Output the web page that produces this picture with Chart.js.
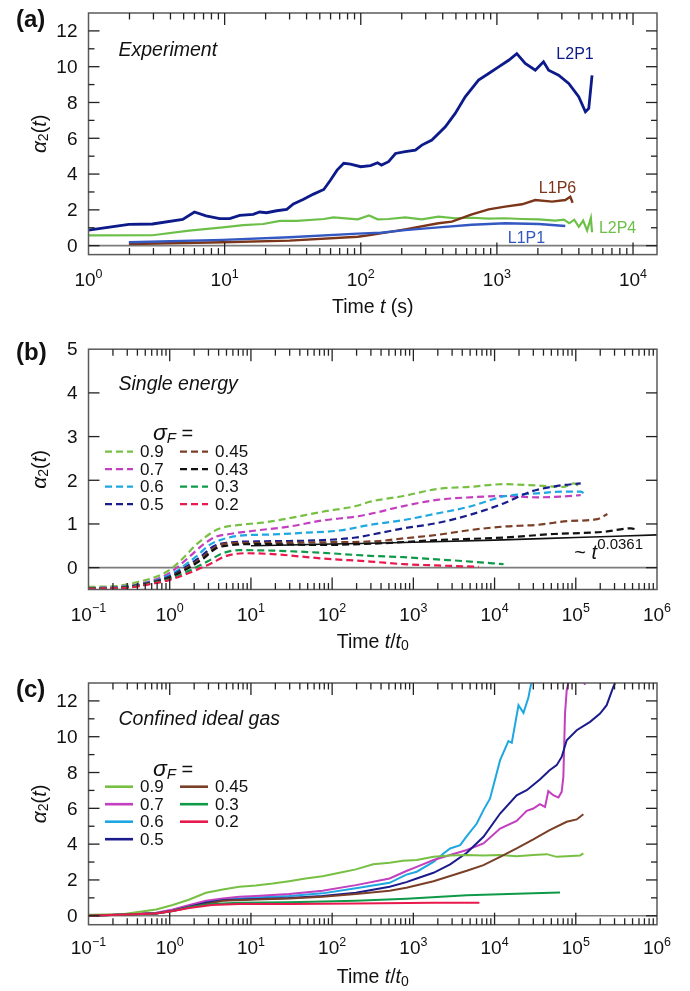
<!DOCTYPE html>
<html>
<head>
<meta charset="utf-8">
<script src="https://cdn.jsdelivr.net/npm/chart.js@4.4.1/dist/chart.umd.min.js"></script>
<style>
  body { margin: 0; background: #fff; width: 690px; height: 991px; position: relative; overflow: hidden; }
  canvas { position: absolute; left: 0; }
</style>
</head>
<body>
<canvas id="pa" width="690" height="330" style="top:0;width:690px;height:330px"></canvas>
<canvas id="pb" width="690" height="330" style="top:330px;width:690px;height:330px"></canvas>
<canvas id="pc" width="690" height="331" style="top:660px;width:690px;height:331px"></canvas>
<script>
const FF = '"Liberation Sans", Arial, Helvetica, sans-serif';

// ===== painel (a): experimento, t em segundos =====
const aL2P1T = [1, 1.98, 2.95, 4.92, 6.0, 7.3, 9.2, 10.9, 12.9, 16.2, 18.1, 20.3, 24.1, 28.6, 32, 38, 45, 53.5, 60, 67, 75, 84, 100, 118, 133, 142, 160, 180, 212, 252, 281, 333, 418, 494, 585, 733, 870, 1030, 1220, 1400, 1615, 1915, 2200, 2400, 2840, 3370, 3990, 4470, 4730, 5000];
const aL2P1V = [0.87, 1.19, 1.21, 1.47, 1.88, 1.66, 1.51, 1.51, 1.69, 1.75, 1.88, 1.84, 1.95, 2.03, 2.33, 2.59, 2.88, 3.14, 3.67, 4.22, 4.6, 4.56, 4.41, 4.47, 4.63, 4.5, 4.69, 5.15, 5.25, 5.34, 5.62, 5.9, 6.64, 7.39, 8.32, 9.25, 9.62, 9.99, 10.36, 10.73, 10.18, 9.8, 10.27, 9.8, 9.52, 9.06, 8.32, 7.48, 7.67, 9.52];
const aL2P4T = [1, 2.95, 5.5, 9.7, 13.7, 19.2, 25.5, 34, 53.5, 63, 95, 115, 133, 160, 212, 281, 372, 494, 655, 870, 1150, 1530, 2030, 2690, 3100, 3400, 3700, 4000, 4300, 4600, 4900, 5000];
const aL2P4V = [0.57, 0.58, 0.84, 1.02, 1.15, 1.21, 1.38, 1.38, 1.49, 1.58, 1.47, 1.69, 1.47, 1.49, 1.58, 1.47, 1.62, 1.53, 1.56, 1.51, 1.53, 1.49, 1.47, 1.40, 1.45, 1.25, 1.45, 1.05, 1.40, 0.85, 1.55, 0.75];
const aL1P1T = [1.98, 9.7, 30, 95, 140, 212, 372, 655, 1150, 2030, 3180];
const aL1P1V = [0.19, 0.32, 0.47, 0.67, 0.72, 0.87, 1.02, 1.17, 1.25, 1.21, 1.10];
const aL1P6T = [1.98, 9.7, 30, 95, 120, 212, 372, 467, 655, 870, 1150, 1530, 1915, 2540, 3180, 3460, 3600];
const aL1P6V = [0.09, 0.19, 0.28, 0.50, 0.60, 0.91, 1.25, 1.34, 1.75, 2.03, 2.18, 2.31, 2.55, 2.46, 2.55, 2.73, 2.40];
// rótulos das curvas (posição em coordenadas de dados)
const aLabels = ['L2P1', 'L1P6', 'L2P4', 'L1P1'];
const aLabelT = [3750, 2790, 7700, 1650];
const aLabelV = [10.7, 3.2, 0.97, 0.41];

// ===== painel (b): energia única (tracejado) =====
const b09T = [0.1, 0.22, 0.42, 0.68, 1.0, 1.45, 2.1, 3.4, 4.5, 7.2, 13.9, 29.5, 76, 196, 294, 760, 1950, 5000, 12900, 33500, 71600, 95000, 115000];
const b09V = [-0.44, -0.42, -0.32, -0.21, -0.05, 0.21, 0.52, 0.82, 0.92, 0.98, 1.03, 1.13, 1.28, 1.41, 1.51, 1.64, 1.80, 1.85, 1.91, 1.88, 1.85, 1.93, 1.82];
const b07T = [0.1, 0.3, 0.6, 1.0, 1.75, 2.55, 3.7, 5.4, 11.5, 29.5, 76, 196, 294, 760, 1950, 5000, 12900, 33500, 71600, 115000];
const b07V = [-0.47, -0.42, -0.30, -0.12, 0.25, 0.52, 0.71, 0.77, 0.85, 0.94, 1.08, 1.17, 1.23, 1.41, 1.55, 1.61, 1.64, 1.61, 1.63, 1.66];
const b06T = [0.1, 0.3, 0.6, 1.0, 2.1, 3.1, 4.5, 7.2, 18.5, 47, 123, 294, 760, 1950, 5000, 12900, 33500, 71600, 115000, 126000];
const b06V = [-0.47, -0.43, -0.32, -0.17, 0.25, 0.52, 0.65, 0.73, 0.76, 0.80, 0.85, 0.98, 1.09, 1.24, 1.40, 1.63, 1.70, 1.74, 1.74, 1.70];
const b05T = [0.1, 0.3, 0.6, 1.0, 2.4, 3.4, 5.0, 11.5, 29.5, 76, 196, 378, 760, 1950, 5000, 12900, 27900, 59300, 115000];
const b05V = [-0.48, -0.44, -0.33, -0.20, 0.25, 0.48, 0.57, 0.60, 0.61, 0.63, 0.69, 0.79, 0.90, 1.02, 1.21, 1.47, 1.74, 1.87, 1.93];
const b045T = [0.1, 0.3, 0.6, 1.0, 2.6, 3.7, 5.4, 11.5, 76, 378, 760, 1950, 5000, 12900, 33500, 86500, 185000, 245000];
const b045V = [-0.48, -0.44, -0.34, -0.22, 0.25, 0.48, 0.56, 0.57, 0.58, 0.61, 0.67, 0.75, 0.86, 0.94, 0.98, 1.07, 1.11, 1.23];
const b043T = [0.1, 0.3, 0.6, 1.0, 2.6, 3.7, 5.4, 11.5, 76, 330, 1950, 12900, 54000, 222000, 478000, 580000];
const b043V = [-0.48, -0.45, -0.35, -0.23, 0.21, 0.44, 0.51, 0.54, 0.52, 0.55, 0.63, 0.69, 0.77, 0.82, 0.90, 0.86];
const b03T = [0.1, 0.3, 0.6, 1.0, 2.9, 4.5, 7.2, 18.5, 76, 294, 760, 1950, 5000, 12900];
const b03V = [-0.48, -0.45, -0.36, -0.26, 0.14, 0.33, 0.40, 0.39, 0.34, 0.27, 0.24, 0.19, 0.14, 0.08];
const b02T = [0.1, 0.3, 0.6, 1.0, 3.1, 5.0, 8.6, 18.5, 76, 294, 760, 1950, 6400];
const b02V = [-0.48, -0.46, -0.37, -0.28, 0.08, 0.27, 0.33, 0.31, 0.21, 0.14, 0.08, 0.05, 0.02];
// ajuste ~ t^0.0361
const bFitT = [10, 100, 1000, 10000, 100000, 1000000];
const bFitV = [0.50, 0.54, 0.58, 0.63, 0.69, 0.75];
const sigmaB = ['0.9', '0.7', '0.6', '0.5', '0.45', '0.43', '0.3', '0.2'];

// ===== painel (c): gás ideal confinado =====
const c09T = [0.1, 0.26, 0.68, 1.09, 1.75, 2.8, 4.5, 7.2, 11.5, 18.5, 29.5, 47, 76, 123, 196, 320, 510, 745, 1100, 1770, 2840, 4550, 7300, 11700, 18700, 30000, 43900, 58000, 77300, 113000, 124000];
const c09V = [0.05, 0.09, 0.35, 0.60, 0.91, 1.28, 1.47, 1.62, 1.69, 1.80, 1.93, 2.08, 2.21, 2.40, 2.59, 2.88, 2.96, 3.07, 3.11, 3.29, 3.37, 3.40, 3.37, 3.39, 3.33, 3.39, 3.44, 3.29, 3.33, 3.37, 3.48];
const c07T = [0.1, 0.68, 1.09, 1.75, 2.8, 4.5, 7.2, 11.5, 29.5, 76, 196, 510, 820, 1100, 1770, 2840, 4550, 7300, 11700, 18700, 24900, 30000, 36100, 41800, 45900, 52800, 61100, 67000, 70300, 73700, 77300, 85000, 100000, 120000, 130000];
const c07V = [0, 0.17, 0.35, 0.60, 0.84, 0.97, 1.06, 1.10, 1.21, 1.40, 1.71, 2.08, 2.50, 2.73, 3.11, 3.39, 3.67, 4.04, 4.87, 5.30, 5.86, 5.99, 6.23, 6.08, 6.96, 6.73, 6.60, 6.92, 7.76, 11.3, 12.6, 13.4, 13.8, 13.3, 12.9];
const c06T = [0.1, 0.68, 1.09, 1.75, 2.8, 4.5, 11.5, 29.5, 76, 196, 510, 820, 1100, 1770, 2350, 2840, 3770, 4550, 6040, 7300, 8800, 11700, 14800, 16300, 19700, 22700, 26100, 28700, 30000];
const c06V = [0, 0.15, 0.30, 0.54, 0.78, 0.91, 1.02, 1.10, 1.25, 1.53, 1.84, 2.30, 2.46, 3.01, 3.48, 3.76, 3.94, 4.45, 5.15, 5.90, 6.55, 8.69, 9.75, 9.66, 11.76, 11.33, 12.19, 13.15, 13.6];
const c05T = [0.1, 0.68, 1.09, 1.75, 2.8, 4.5, 11.5, 29.5, 76, 196, 510, 820, 1100, 1770, 2840, 4550, 7300, 11700, 18700, 24900, 36100, 47600, 58200, 67000, 77300, 102600, 150000, 199000, 240000, 290000, 316000, 330000];
const c05V = [0, 0.13, 0.28, 0.50, 0.73, 0.87, 0.93, 0.99, 1.10, 1.28, 1.62, 1.88, 2.08, 2.40, 2.87, 3.52, 4.41, 5.71, 6.73, 7.01, 7.61, 8.13, 8.41, 8.87, 9.80, 10.36, 10.83, 11.29, 11.76, 12.78, 13.15, 13.4];
const c045T = [0.1, 0.68, 1.09, 1.75, 4.5, 11.5, 29.5, 76, 196, 510, 820, 1770, 4550, 7300, 11700, 18700, 30000, 47600, 77300, 102600, 124000];
const c045V = [0, 0.12, 0.27, 0.47, 0.84, 0.91, 0.97, 1.06, 1.21, 1.40, 1.56, 1.93, 2.51, 2.83, 3.29, 3.76, 4.26, 4.78, 5.25, 5.38, 5.67];
const c03T = [0.1, 0.68, 1.09, 1.75, 3.3, 7.2, 29.5, 196, 820, 4550, 30000, 64000];
const c03V = [0, 0.12, 0.27, 0.47, 0.65, 0.73, 0.76, 0.84, 0.95, 1.15, 1.25, 1.30];
const c02T = [0.1, 0.68, 1.09, 1.75, 3.3, 7.2, 29.5, 196, 1770, 6500];
const c02V = [0, 0.12, 0.26, 0.43, 0.60, 0.65, 0.65, 0.69, 0.73, 0.73];
const sigmaC = ['0.9', '0.7', '0.6', '0.5', '0.45', '0.3', '0.2'];

// ticks
const yMajA = [0, 2, 4, 6, 8, 10, 12];
const yMinA = [1, 3, 5, 7, 9, 11];
const yMajB = [0, 1, 2, 3, 4, 5];
const xDecA = [0, 1, 2, 3, 4];
const xDecB = [-1, 0, 1, 2, 3, 4, 5, 6];

// cores
const cor = {
  '0.9': '#77c043', '0.7': '#c23fbf', '0.6': '#1ea7e1', '0.5': '#1a1c8c',
  '0.45': '#7a3f26', '0.43': '#111111', '0.3': '#0f9a49', '0.2': '#e8194c'
};

function serie(ts, vs, color, extra) {
  return Object.assign({
    data: ts.map((t, i) => ({ x: t, y: vs[i] })),
    borderColor: color, borderWidth: 2, pointRadius: 0, fill: false, clip: 0, tension: 0
  }, extra || {});
}

// desenha uma sequência de trechos de texto com estilos diferentes
function texto(ctx, partes, x, y, align) {
  let w = 0;
  partes.forEach(p => { ctx.font = p.f; w += ctx.measureText(p.t).width; });
  let cx = align === 'center' ? x - w / 2 : (align === 'right' ? x - w : x);
  partes.forEach(p => {
    ctx.font = p.f;
    ctx.fillText(p.t, cx, y + (p.dy || 0));
    cx += ctx.measureText(p.t).width;
  });
}

function painelPlugin(p) {
  return {
    id: 'painel',
    beforeDatasetsDraw(chart) {
      const { ctx, chartArea: ca, scales: { y } } = chart;
      const y0 = y.getPixelForValue(0);
      ctx.save();
      ctx.strokeStyle = '#7d7d7d'; ctx.lineWidth = 1.6;
      ctx.beginPath(); ctx.moveTo(ca.left, y0); ctx.lineTo(ca.right, y0); ctx.stroke();
      ctx.restore();
    },
    afterDraw(chart) {
      const { ctx, chartArea: ca, scales: { x, y } } = chart;
      ctx.save();
      ctx.strokeStyle = '#5a5a5a'; ctx.lineWidth = 1.5;
      ctx.strokeRect(ca.left, ca.top, ca.right - ca.left, ca.bottom - ca.top);

      ctx.strokeStyle = '#222'; ctx.lineWidth = 1.3;
      const seg = (x1, y1, x2, y2) => { ctx.beginPath(); ctx.moveTo(x1, y1); ctx.lineTo(x2, y2); ctx.stroke(); };
      p.xDec.forEach(k => {
        const v = Math.pow(10, k);
        const px = x.getPixelForValue(v);
        if (px > ca.left + 1 && px < ca.right - 1) {
          seg(px, ca.bottom, px, ca.bottom - 12); seg(px, ca.top, px, ca.top + 12);
        }
        for (let m = 2; m <= 9; m++) {
          const mv = m * v;
          if (mv >= x.max) continue;
          const mp = x.getPixelForValue(mv);
          seg(mp, ca.bottom, mp, ca.bottom - 6.5); seg(mp, ca.top, mp, ca.top + 6.5);
        }
      });
      p.yMaj.forEach(v => {
        const py = y.getPixelForValue(v);
        if (py > ca.top + 1) { seg(ca.left, py, ca.left + 11, py); seg(ca.right, py, ca.right - 11, py); }
      });
      p.yMin.forEach(v => {
        const py = y.getPixelForValue(v);
        seg(ca.left, py, ca.left + 6, py); seg(ca.right, py, ca.right - 6, py);
      });

      // rótulos dos eixos
      ctx.fillStyle = '#111';
      ctx.textBaseline = 'middle';
      ctx.textAlign = 'left';
      p.yMaj.forEach(v => {
        texto(ctx, [{ t: String(v), f: '19px ' + FF }], ca.left - 11, y.getPixelForValue(v) + 1, 'right');
      });
      p.xDec.forEach(k => {
        const px = x.getPixelForValue(Math.pow(10, k));
        const ex = k < 0 ? '\u2212' + (-k) : String(k);
        texto(ctx, [{ t: '10', f: '19px ' + FF }, { t: ex, f: '12.5px ' + FF, dy: -6.5 }], px, ca.bottom + p.tickDy, 'center');
      });
      const cxm = (ca.left + ca.right) / 2;
      texto(ctx, p.xTitle, cxm, ca.bottom + 53, 'center');

      ctx.save();
      ctx.translate(40, (ca.top + ca.bottom) / 2);
      ctx.rotate(-Math.PI / 2);
      texto(ctx, [
        { t: '\u03B1', f: 'italic 21px ' + FF },
        { t: '2', f: '14px ' + FF, dy: 4 },
        { t: '(', f: '20px ' + FF },
        { t: 't', f: 'italic 20px ' + FF },
        { t: ')', f: '20px ' + FF }
      ], 0, 0, 'center');
      ctx.restore();

      texto(ctx, [{ t: p.letter, f: 'bold 24px ' + FF }], 16, p.letterY, 'left');
      texto(ctx, [{ t: p.name, f: 'italic 19.5px ' + FF }], ca.left + 30, p.nameY, 'left');

      if (p.extra) p.extra(chart, ctx);
      ctx.restore();
    }
  };
}

function legenda(ctx, labels, dash, sigY, rowY, lw) {
  texto(ctx, [
    { t: '\u03C3', f: 'italic 23px ' + FF },
    { t: 'F', f: 'italic 15px ' + FF, dy: 5 },
    { t: ' =', f: '20px ' + FF }
  ], 153, sigY, 'left');
  labels.forEach((lab, i) => {
    const col = i < 4 ? 0 : 1;
    const row = i < 4 ? i : i - 4;
    const yy = rowY + row * 17.5;
    const x0 = col === 0 ? 105 : 180;
    ctx.save();
    ctx.strokeStyle = cor[lab]; ctx.lineWidth = lw;
    ctx.setLineDash(dash);
    ctx.beginPath(); ctx.moveTo(x0, yy); ctx.lineTo(x0 + 28, yy); ctx.stroke();
    ctx.restore();
    ctx.fillStyle = '#111';
    texto(ctx, [{ t: lab, f: '17px ' + FF }], x0 + 35, yy + 1, 'left');
  });
}

function baseOpts(pad, xmin, xmax, ymin, ymax) {
  return {
    responsive: false,
    animation: false,
    layout: { padding: pad },
    plugins: { legend: { display: false }, tooltip: { enabled: false } },
    scales: {
      x: { type: 'logarithmic', min: xmin, max: xmax, bounds: 'data', display: false },
      y: { type: 'linear', min: ymin, max: ymax, display: false }
    }
  };
}

const tituloT0 = [{ t: 'Time ', f: '19.5px ' + FF }, { t: 't', f: 'italic 19.5px ' + FF }, { t: '/', f: '19.5px ' + FF },
                  { t: 't', f: 'italic 19.5px ' + FF }, { t: '0', f: '14px ' + FF, dy: 4 }];

/* ===== painel (a) ===== */
new Chart(document.getElementById('pa'), {
  type: 'line',
  data: {
    datasets: [
      serie(aL1P1T, aL1P1V, '#3358c2', { borderWidth: 2.4 }),
      serie(aL1P6T, aL1P6V, '#7b3519', { borderWidth: 2.4 }),
      serie(aL2P4T, aL2P4V, '#6cc04a', { borderWidth: 2.2 }),
      serie(aL2P1T, aL2P1V, '#0c1a8a', { borderWidth: 2.8 })
    ]
  },
  options: baseOpts({ left: 88.5, right: 33, top: 13, bottom: 75.4 }, 1, 15000, -0.5, 13),
  plugins: [painelPlugin({
    xDec: xDecA, yMaj: yMajA, yMin: yMinA, tickDy: 26,
    xTitle: [{ t: 'Time ', f: '19.5px ' + FF }, { t: 't', f: 'italic 19.5px ' + FF }, { t: ' (s)', f: '19.5px ' + FF }],
    letter: '(a)', letterY: 20, name: 'Experiment', nameY: 51,
    extra(chart, ctx) {
      const { x, y } = chart.scales;
      const cores = ['#0c1a8a', '#7b3519', '#6cc04a', '#3358c2'];
      aLabels.forEach((l, i) => {
        ctx.fillStyle = cores[i];
        texto(ctx, [{ t: l, f: '16px ' + FF }], x.getPixelForValue(aLabelT[i]), y.getPixelForValue(aLabelV[i]), 'center');
      });
    }
  })]
});

/* ===== painel (b) ===== */
const dashB = { borderDash: [7, 4], borderWidth: 2.2, cubicInterpolationMode: 'monotone' };
new Chart(document.getElementById('pb'), {
  type: 'line',
  data: {
    datasets: [
      serie(bFitT, bFitV, '#111', { borderWidth: 1.6, cubicInterpolationMode: 'monotone' }),
      serie(b02T, b02V, cor['0.2'], dashB),
      serie(b03T, b03V, cor['0.3'], dashB),
      serie(b043T, b043V, cor['0.43'], dashB),
      serie(b045T, b045V, cor['0.45'], dashB),
      serie(b05T, b05V, cor['0.5'], dashB),
      serie(b06T, b06V, cor['0.6'], dashB),
      serie(b07T, b07V, cor['0.7'], dashB),
      serie(b09T, b09V, cor['0.9'], dashB)
    ]
  },
  options: baseOpts({ left: 88.5, right: 33, top: 19.2, bottom: 70.5 }, 0.1, 1e6, -0.5, 5),
  plugins: [painelPlugin({
    xDec: xDecB, yMaj: yMajB, yMin: [], tickDy: 26,
    xTitle: tituloT0,
    letter: '(b)', letterY: 23, name: 'Single energy', nameY: 55,
    extra(chart, ctx) {
      ctx.fillStyle = '#111';
      legenda(ctx, sigmaB, [7, 4], 104, 121.7, 2.2);
      const { x, y } = chart.scales;
      const px = x.getPixelForValue(9.6e4), py = y.getPixelForValue(0.33);
      texto(ctx, [{ t: '~ ', f: '20px ' + FF }, { t: 't', f: 'italic 20px ' + FF }, { t: '0.0361', f: '15px ' + FF, dy: -8 }], px, py, 'left');
    }
  })]
});

/* ===== painel (c) ===== */
new Chart(document.getElementById('pc'), {
  type: 'line',
  data: {
    datasets: [
      serie(c02T, c02V, cor['0.2']),
      serie(c03T, c03V, cor['0.3']),
      serie(c045T, c045V, cor['0.45']),
      serie(c09T, c09V, cor['0.9']),
      serie(c05T, c05V, cor['0.5']),
      serie(c07T, c07V, cor['0.7']),
      serie(c06T, c06V, cor['0.6'])
    ]
  },
  options: baseOpts({ left: 88.5, right: 33, top: 23, bottom: 66.3 }, 0.1, 1e6, -0.5, 13),
  plugins: [painelPlugin({
    xDec: xDecB, yMaj: yMajA, yMin: yMinA, tickDy: 24,
    xTitle: tituloT0,
    letter: '(c)', letterY: 30, name: 'Confined ideal gas', nameY: 60,
    extra(chart, ctx) {
      ctx.fillStyle = '#111';
      legenda(ctx, sigmaC, [], 110, 126.7, 2.6);
    }
  })]
});
</script>
</body>
</html>
